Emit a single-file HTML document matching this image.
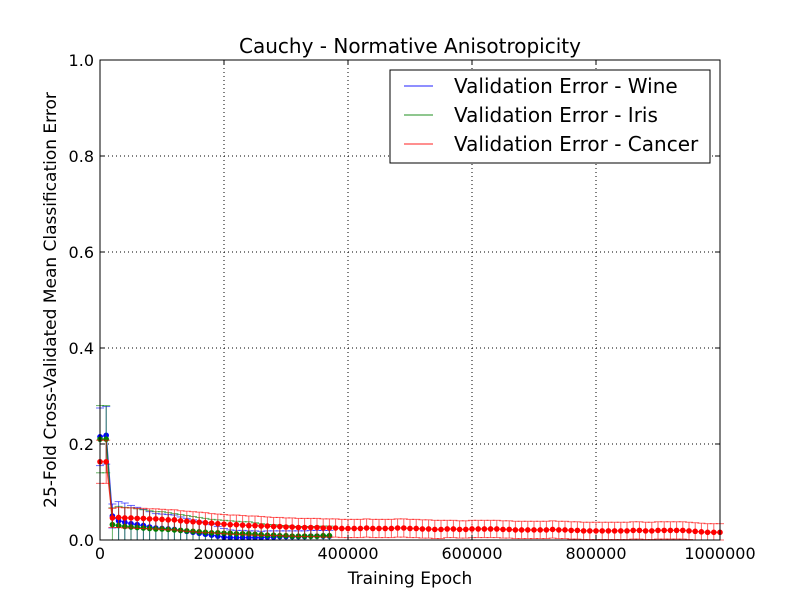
<!DOCTYPE html>
<html><head><meta charset="utf-8"><style>
body{margin:0;background:#fff;}
svg{display:block;font-family:"DejaVu Sans","Liberation Sans",sans-serif;}
</style></head><body>
<svg id="chart" width="800" height="600" viewBox="0 0 800 600">
<rect width="800" height="600" fill="#fff"/>
<g id="grid"></g>
<g id="series"></g>
<rect x="100" y="60" width="620" height="480" fill="none" stroke="#000" stroke-width="1"/>
<g id="ticks"></g>
<text x="410" y="53" font-size="20" text-anchor="middle">Cauchy - Normative Anisotropicity</text>
<text x="410" y="584" font-size="17" text-anchor="middle">Training Epoch</text>
<text transform="translate(56,300) rotate(-90)" font-size="17" text-anchor="middle">25-Fold Cross-Validated Mean Classification Error</text>
<g>
<rect x="390" y="70" width="320" height="93" fill="#fff" stroke="#000" stroke-width="1"/>
<line x1="404" y1="86" x2="433" y2="86" stroke="#0000ff" stroke-opacity="0.7" stroke-width="1.3"/>
<text x="454" y="93" font-size="20">Validation Error - Wine</text>
<line x1="404" y1="115" x2="433" y2="115" stroke="#008000" stroke-opacity="0.7" stroke-width="1.3"/>
<text x="454" y="122" font-size="20">Validation Error - Iris</text>
<line x1="404" y1="144" x2="433" y2="144" stroke="#ff0000" stroke-opacity="0.7" stroke-width="1.3"/>
<text x="454" y="151" font-size="20">Validation Error - Cancer</text>
</g>
</svg>
<script>
const xTicks=[0,200000,400000,600000,800000,1000000];
const yTicks=[0.0,0.2,0.4,0.6,0.8,1.0];
const wineVals=[0.215,0.218,0.05,0.04,0.037,0.034,0.032,0.030,0.027,0.025,0.024,0.023,0.022,0.020,0.018,0.016,0.014,0.012,0.010,0.008,0.006,0.005,0.005,0.005,0.005,0.005,0.005,0.006,0.006,0.007,0.007,0.007,0.007,0.007,0.008,0.008,0.008,0.008];
const wineErr=[0.06,0.06,0.025,0.04,0.04,0.038,0.036,0.034,0.032,0.03,0.03,0.03,0.03,0.028,0.027,0.026,0.025,0.024,0.022,0.02,0.018,0.016,0.015,0.015,0.014,0.014,0.013,0.013,0.013,0.012,0.012,0.012,0.012,0.012,0.012,0.012,0.012,0.012];
const irisVals=[0.21,0.21,0.032,0.030,0.028,0.027,0.026,0.025,0.024,0.023,0.023,0.022,0.021,0.020,0.019,0.018,0.017,0.016,0.015,0.015,0.014,0.014,0.013,0.013,0.013,0.012,0.011,0.010,0.010,0.009,0.009,0.008,0.008,0.008,0.008,0.008,0.009,0.009];
const irisErr=[0.07,0.07,0.035,0.04,0.04,0.04,0.039,0.038,0.037,0.036,0.036,0.035,0.034,0.033,0.032,0.031,0.03,0.029,0.028,0.027,0.027,0.026,0.026,0.025,0.025,0.024,0.023,0.022,0.022,0.021,0.021,0.02,0.02,0.02,0.02,0.02,0.02,0.02];
const cancerVals=[0.163,0.163,0.046,0.047,0.046,0.046,0.045,0.045,0.044,0.044,0.043,0.042,0.042,0.040,0.039,0.038,0.037,0.036,0.035,0.034,0.033,0.032,0.032,0.031,0.030,0.030,0.029,0.029,0.028,0.028,0.027,0.027,0.026,0.026,0.026,0.026,0.025,0.025,0.025,0.024,0.024,0.024,0.024,0.025,0.024,0.024,0.024,0.024,0.025,0.025,0.024,0.024,0.023,0.023,0.022,0.022,0.023,0.023,0.022,0.022,0.023,0.023,0.023,0.023,0.023,0.022,0.022,0.021,0.021,0.021,0.021,0.021,0.021,0.022,0.021,0.021,0.020,0.020,0.019,0.019,0.019,0.019,0.019,0.019,0.019,0.019,0.020,0.020,0.019,0.019,0.020,0.020,0.020,0.020,0.020,0.019,0.018,0.017,0.016,0.016,0.016];
const cancerErr=[0.045,0.045,0.02,0.021,0.021,0.021,0.021,0.021,0.021,0.021,0.021,0.021,0.021,0.021,0.021,0.021,0.021,0.021,0.02,0.02,0.02,0.02,0.02,0.02,0.02,0.02,0.02,0.019,0.019,0.019,0.019,0.019,0.019,0.019,0.019,0.019,0.019,0.019,0.019,0.019,0.019,0.019,0.019,0.019,0.019,0.019,0.019,0.019,0.019,0.019,0.019,0.019,0.019,0.019,0.019,0.019,0.018,0.018,0.018,0.018,0.018,0.018,0.018,0.018,0.018,0.018,0.018,0.018,0.018,0.018,0.018,0.018,0.018,0.018,0.018,0.018,0.018,0.018,0.018,0.018,0.018,0.018,0.018,0.018,0.018,0.018,0.018,0.018,0.018,0.018,0.018,0.018,0.018,0.018,0.018,0.018,0.018,0.018,0.018,0.018,0.018];
const epochStep=10000;
const NS='http://www.w3.org/2000/svg';
const X=v=>100+v/1000000*620;
const Y=v=>540-v*480;
function mk(tag,attrs,parent){const e=document.createElementNS(NS,tag);for(const k in attrs)e.setAttribute(k,attrs[k]);parent.appendChild(e);return e;}
const grid=document.getElementById('grid'),ticks=document.getElementById('ticks'),series=document.getElementById('series');
xTicks.forEach(t=>{
  if(t>0&&t<1000000){const g=mk('line',{x1:X(t),x2:X(t),y1:60,y2:540,stroke:'#000','stroke-dasharray':'1,3'},grid);
  
  }
  mk('line',{x1:X(t),x2:X(t),y1:540,y2:535,stroke:'#000'},ticks);
  mk('line',{x1:X(t),x2:X(t),y1:60,y2:65,stroke:'#000'},ticks);
  const l=mk('text',{x:X(t),y:559,'font-size':16,'text-anchor':'middle'},ticks);l.textContent=String(t);
  
  
});
yTicks.forEach(t=>{
  if(t>0&&t<1){const g=mk('line',{x1:100,x2:720,y1:Y(t),y2:Y(t),stroke:'#000','stroke-dasharray':'1,3'},grid);
  
  }
  mk('line',{x1:100,x2:105,y1:Y(t),y2:Y(t),stroke:'#000'},ticks);
  mk('line',{x1:715,x2:720,y1:Y(t),y2:Y(t),stroke:'#000'},ticks);
  const l=mk('text',{x:94,y:Y(t)+6,'font-size':16,'text-anchor':'end'},ticks);l.textContent=t.toFixed(1);
  
  
});
function draw(vals,errs,color,name){
  const g=mk('g',{},series);
  
  
  vals.forEach((v,i)=>{
    const x=X(i*epochStep),lo=Math.max(0,v-errs[i]),hi=v+errs[i];
    mk('line',{x1:x,x2:x,y1:Y(lo),y2:Y(hi),stroke:color,'stroke-opacity':0.6},g);
    mk('line',{x1:x-4,x2:x+4,y1:Y(hi),y2:Y(hi),stroke:color,'stroke-opacity':0.6},g);
    mk('line',{x1:x-4,x2:x+4,y1:Y(lo),y2:Y(lo),stroke:color,'stroke-opacity':0.6},g);
  });
  mk('polyline',{points:vals.map((v,i)=>X(i*epochStep)+','+Y(v)).join(' '),fill:'none',stroke:color,'stroke-opacity':0.75,'stroke-width':1.3},g);
  vals.forEach((v,i)=>{
    const c=mk('circle',{cx:X(i*epochStep),cy:Y(v),r:2.8,fill:color},g);
    
    
  });
}
draw(wineVals,wineErr,'#0000ff','wine');
draw(irisVals,irisErr,'#008000','iris');
draw(cancerVals,cancerErr,'#ff0000','cancer');
</script>
</body></html>
